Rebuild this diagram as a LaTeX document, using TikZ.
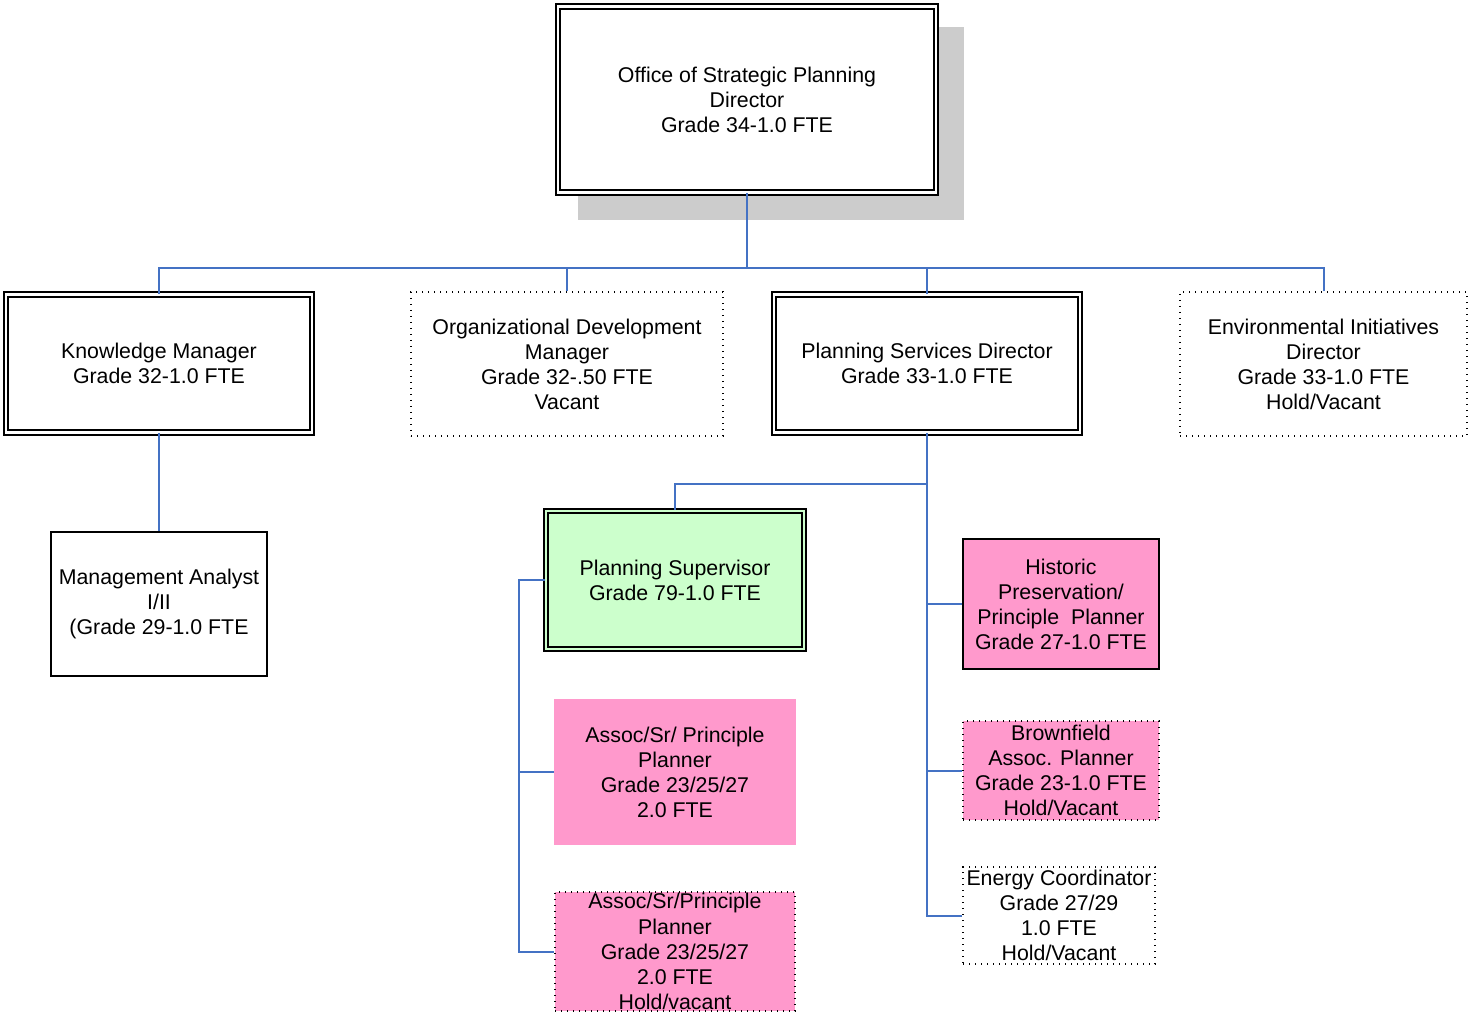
\documentclass[tikz,border=0pt]{standalone}
\usepackage{fontspec}
\setmainfont{Liberation Sans}
\definecolor{conn}{HTML}{4472C4}
\definecolor{pinkfill}{HTML}{FF99CC}
\definecolor{greenfill}{HTML}{CCFFCC}
\definecolor{shadowgray}{HTML}{CCCCCC}
\begin{document}
\begin{tikzpicture}[x=0.75pt,y=-0.75pt,
  sz/.style 2 args={minimum width=#1*0.75pt, minimum height=#2*0.75pt},
  box/.style={rectangle, inner sep=0pt, align=center,
    font=\fontsize{16}{18.8}\selectfont},
  dbl/.style={box, draw=black, line width=1.4pt, double=#1, double distance=2pt, fill=#1},
  dbl/.default=white,
  single/.style={box, draw=black, line width=1.3pt},
  dotbox/.style={box, draw=black, line width=0.8pt, dash pattern=on 0.8pt off 3.7pt},
  conline/.style={draw=conn, line width=1.5pt}]
\useasboundingbox (0,0) rectangle (1468,1016);
\fill[white] (0,0) rectangle (1468,1016);

% shadow of the top box
\fill[shadowgray] (578,27) rectangle (964,220);

% nodes
\node[dbl, sz={378}{186}] (top) at (747,99.5)
  {Office of Strategic Planning\\Director\\Grade 34-1.0 FTE};

\node[dbl, sz={306}{138}] (km) at (159,363.5)
  {Knowledge Manager\\Grade 32-1.0 FTE};
\node[dotbox, sz={312}{144}] (od) at (567,364)
  {Organizational Development\\Manager\\Grade 32-.50 FTE\\Vacant};
\node[dbl, sz={306}{138}] (psd) at (927,363.5)
  {Planning Services Director\\Grade 33-1.0 FTE};
\node[dotbox, sz={287}{144}] (env) at (1323.5,364)
  {Environmental Initiatives\\Director\\Grade 33-1.0 FTE\\Hold/Vacant};

\node[single, sz={216}{144}] (ma) at (159,604)
  {Management Analyst\\I/II\\(Grade 29-1.0 FTE};

\node[dbl=greenfill, sz={258}{138}] (ps) at (675,580)
  {Planning Supervisor\\Grade 79-1.0 FTE};
\node[box, fill=pinkfill, sz={242}{146}] (ap) at (675,772)
  {Assoc/Sr/ Principle\\Planner\\Grade 23/25/27\\2.0 FTE};
\node[dotbox, fill=pinkfill, sz={240}{119}] (ah) at (675,951.5)
  {Assoc/Sr/Principle\\Planner\\Grade 23/25/27\\2.0 FTE\\Hold/vacant};

\node[single, fill=pinkfill, sz={196}{130}] (hp) at (1061,604)
  {Historic\\Preservation/\\Principle~ Planner\\Grade 27-1.0 FTE};
\node[dotbox, fill=pinkfill, sz={196}{99}] (bf) at (1061,770.5)
  {Brownfield\\Assoc. Planner\\Grade 23-1.0 FTE\\Hold/Vacant};
\node[dotbox, sz={192}{97}] (ec) at (1059,915.5)
  {Energy Coordinator\\Grade 27/29\\1.0 FTE\\Hold/Vacant};

% connector junctions
\coordinate (bus) at (747,268);
\coordinate (psj) at (927,484);
\coordinate (lb) at (519,580);

% connectors
\draw[conline] (top.south) -- (bus);
\draw[conline] (km.north) |- (bus);
\draw[conline] (od.north) |- (bus);
\draw[conline] (psd.north) |- (bus);
\draw[conline] (env.north) |- (bus);

\draw[conline] (km.south) -- (ma.north);

\draw[conline] (psd.south) |- (ec.west);
\draw[conline] (ps.north) |- (psj);
\draw[conline] (hp.west) -- (hp.west -| psd.south);
\draw[conline] (bf.west) -- (bf.west -| psd.south);

\draw[conline] (ps.west) -- (lb) |- (ah.west);
\draw[conline] (ap.west) -- (ap.west -| lb);
\end{tikzpicture}
\end{document}
